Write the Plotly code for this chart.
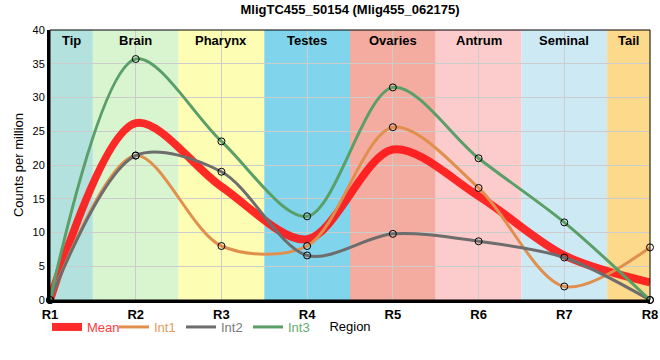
import plotly.graph_objects as go

regions = ["R1", "R2", "R3", "R4", "R5", "R6", "R7", "R8"]
mean = [0, 26.2, 16.8, 9.0, 22.3, 15.4, 6.6, 2.6]
int1 = [0, 21.4, 8.0, 8.0, 25.6, 16.6, 2.0, 7.8]
int2 = [0, 21.4, 19.0, 6.6, 9.8, 8.7, 6.3, 0]
int3 = [0, 35.7, 23.5, 12.4, 31.5, 21.0, 11.5, 0]

band_names = ["Tip", "Brain", "Pharynx", "Testes", "Ovaries", "Antrum", "Seminal", "Tail"]
band_starts = [0, 0.5, 1.5, 2.5, 3.5, 4.5, 5.5, 6.5]
band_ends = [0.5, 1.5, 2.5, 3.5, 4.5, 5.5, 6.5, 7]
band_colors = ["#b3e2de", "#d8f5d0", "#fdfdb4", "#80d5ec", "#f4aca0",
               "#fccbcb", "#cdeaf4", "#fcd98b"]

fig = go.Figure()

def colored(name, color):
    return f"<span style='color:{color}'>{name}</span>"

mean_col = "rgba(255,20,20,0.9)"
fig.add_trace(go.Scatter(x=regions, y=mean, mode="lines",
                         line=dict(color=mean_col, width=8, shape="spline", smoothing=0.9),
                         showlegend=False, cliponaxis=False))
series = [("Int1", int1, "#e08f4d", "#e59a60"), ("Int2", int2, "#6d6d6d", "#7a7a7a"),
          ("Int3", int3, "#5a9e68", "#66aa74")]
for name, vals, col, tcol in series:
    fig.add_trace(go.Scatter(x=regions, y=vals, mode="lines+markers",
                             line=dict(color=col, width=3, shape="spline", smoothing=0.9),
                             marker=dict(symbol="circle", size=7, color="rgba(255,255,255,0)",
                                         line=dict(color="black", width=1)),
                             showlegend=False, cliponaxis=False))

# legend entries (line-only symbols)
fig.add_trace(go.Scatter(x=[None], y=[None], mode="lines", line=dict(color=mean_col, width=8),
                         name=colored("Mean", "#ff3a3a")))
for name, vals, col, tcol in series:
    fig.add_trace(go.Scatter(x=[None], y=[None], mode="lines", line=dict(color=col, width=3),
                             name=colored(name, tcol)))

shapes = []
annotations = []
for nm, x0, x1, c in zip(band_names, band_starts, band_ends, band_colors):
    shapes.append(dict(type="rect", xref="x", yref="paper", x0=x0, x1=x1, y0=0, y1=1,
                       fillcolor=c, line=dict(width=0), layer="below"))
    annotations.append(dict(x=(x0 + x1) / 2, y=1, xref="x", yref="paper", text=f"<b>{nm}</b>",
                            showarrow=False, yanchor="top", yshift=-1,
                            font=dict(size=13, color="black", family="Liberation Sans")))
shapes.append(dict(type="rect", xref="paper", yref="paper", x0=0, x1=1, y0=0, y1=1,
                   line=dict(color="black", width=1), layer="above"))

fig.update_layout(
    width=660, height=360,
    margin=dict(l=50, r=10, t=30, b=60, autoexpand=False),
    paper_bgcolor="white", plot_bgcolor="white",
    font=dict(family="Liberation Sans", size=12, color="black"),
    title=dict(text="<b>MligTC455_50154 (Mlig455_062175)</b>", x=0.5, xanchor="center",
               xref="paper", yref="container", y=1 - 9 / 360, yanchor="middle",
               font=dict(size=13)),
    shapes=shapes, annotations=annotations,
    showlegend=True,
    legend=dict(orientation="h", x=-0.005, xanchor="left", y=-0.1, yanchor="middle",
                font=dict(size=13, family="Liberation Sans"), bgcolor="rgba(0,0,0,0)",
                itemwidth=30, entrywidth=22, entrywidthmode="pixels", tracegroupgap=0),
)
fig.update_xaxes(type="category", range=[0, 7], showgrid=True, gridcolor="#cccccc", gridwidth=1,
                 showline=True, linecolor="black", linewidth=3, ticks="", automargin=False,
                 tickfont=dict(size=13, family="Liberation Sans"),
                 tickprefix="<b>", ticksuffix="</b>",
                 title=dict(text="Region", font=dict(size=13), standoff=2), zeroline=False)
fig.update_yaxes(range=[0, 40], dtick=5, showgrid=True, gridcolor="#cccccc", gridwidth=1,
                 showline=True, linecolor="black", linewidth=3, ticks="", zeroline=False,
                 automargin=False, tickfont=dict(size=11),
                 title=dict(text="Counts per million", font=dict(size=13), standoff=6))

fig.write_html("out.html", config={"displayModeBar": False},
               post_script="document.body.style.margin='0';")
